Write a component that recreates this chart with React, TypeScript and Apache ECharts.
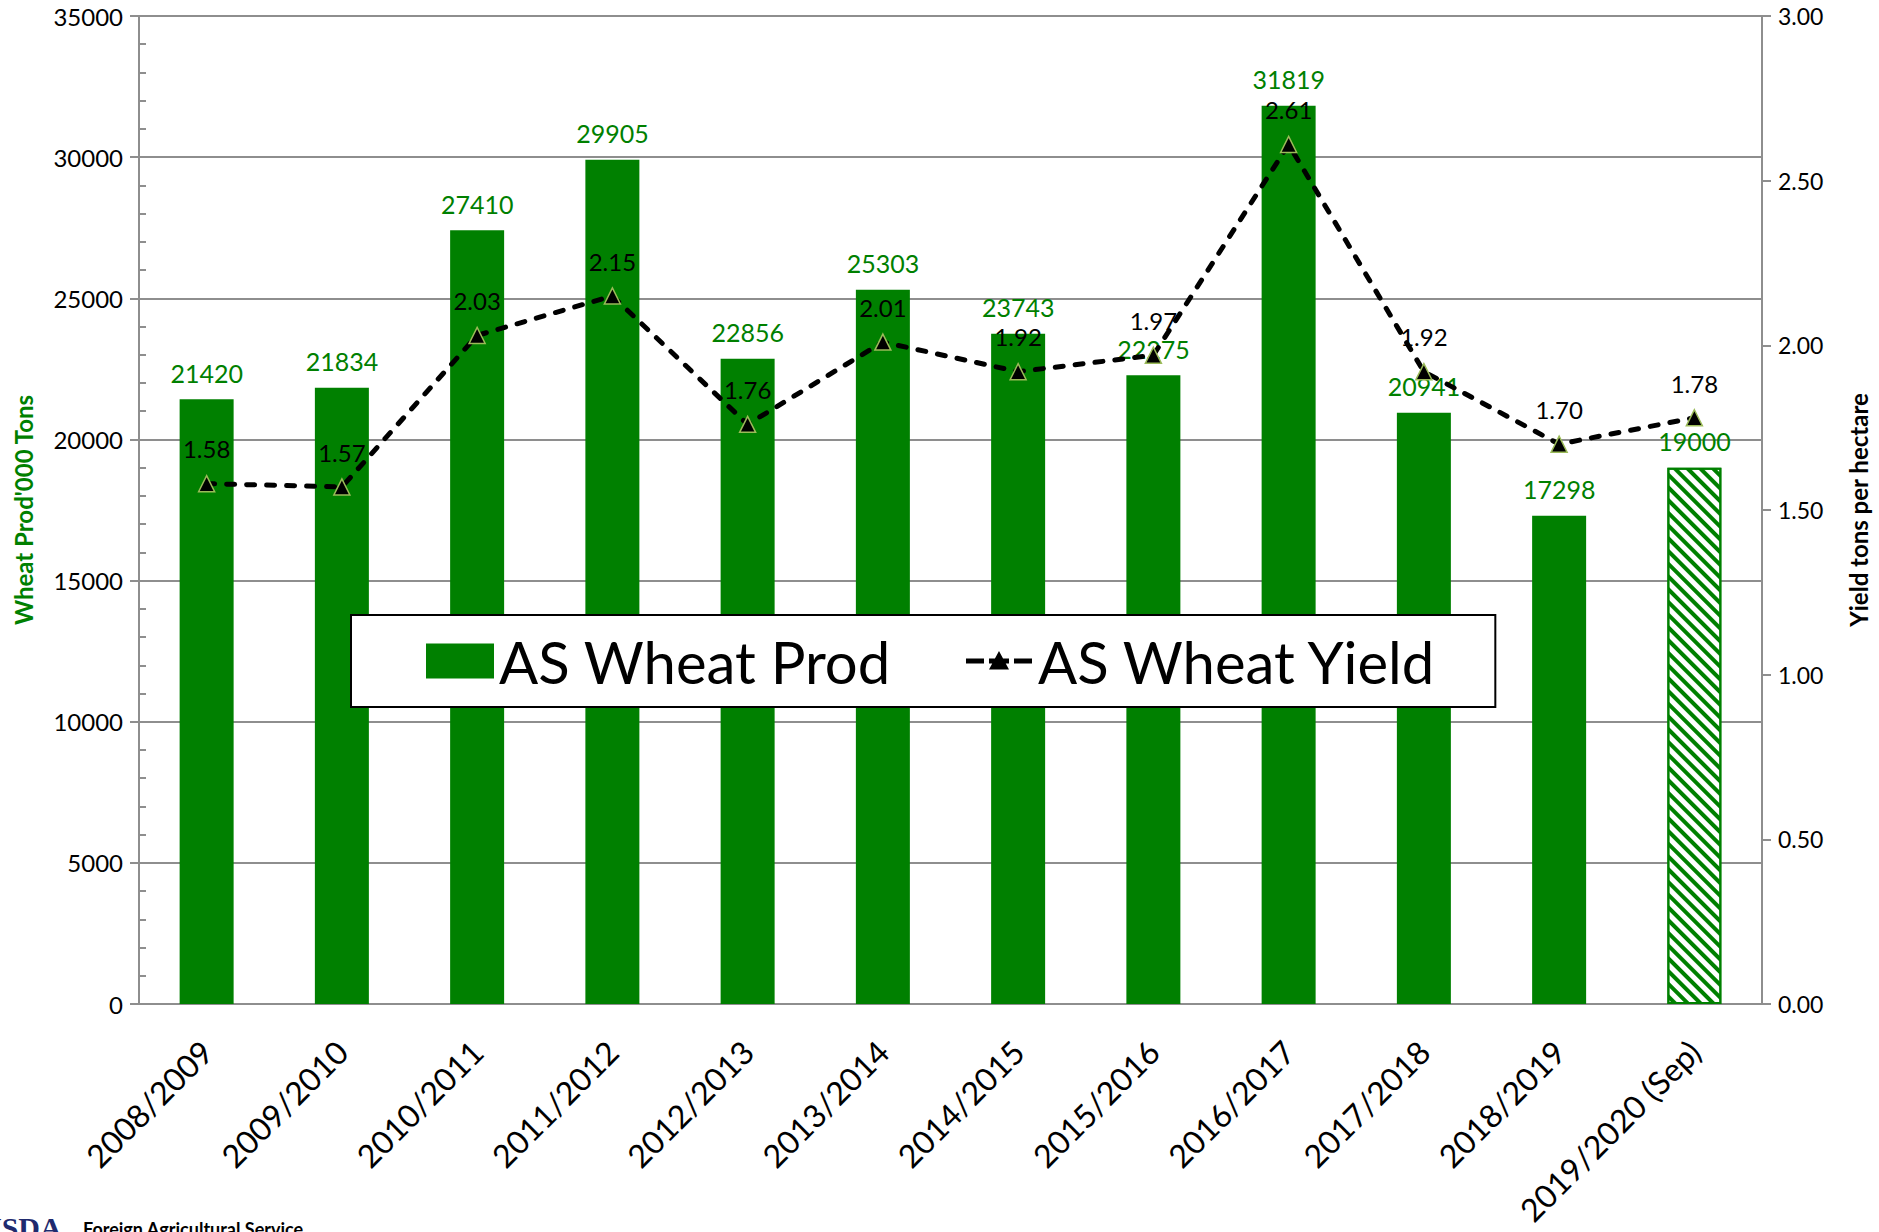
import React, { useEffect, useRef } from "react";
import * as echarts from "echarts";

const categories = [
  "2008/2009", "2009/2010", "2010/2011", "2011/2012", "2012/2013", "2013/2014",
  "2014/2015", "2015/2016", "2016/2017", "2017/2018", "2018/2019", "2019/2020 (Sep)",
];
const prodValues = [21420, 21834, 27410, 29905, 22856, 25303, 23743, 22275, 31819, 20941, 17298, 19000];
const yieldValues = [1.58, 1.57, 2.03, 2.15, 1.76, 2.01, 1.92, 1.97, 2.61, 1.92, 1.70, 1.78];
const leftTicks = { min: 0, max: 35000, interval: 5000, minorInterval: 1000 };
const rightTicks = { min: 0, max: 3, interval: 0.5 };

const GREEN = "#008000";
const GRAY = "#8e8e8e";
const FONT = "Lato";

// legend icon for the yield line: dashes + small triangle, in a 68x35 box
const LINE_ICON =
  "path://M0 0h0.01v0.01h-0.01Z M67.99 34.99h0.01v0.01h-0.01Z " +
  "M1 15h18v5h-18Z M24 15h20v5h-20Z M49 15h18v5h-18Z " +
  "M34 7.5L44 26L24 26Z";

export default function App() {
  const ref = useRef<HTMLDivElement>(null);
  useEffect(() => {
    document.body.style.margin = "0";
    document.body.style.overflow = "hidden";
    const chart = echarts.init(ref.current!, null, { renderer: "svg" });
    const last = prodValues.length - 1;
    chart.setOption({
      animation: false,
      backgroundColor: "#fff",
      textStyle: { fontFamily: FONT },
      grid: { left: 139, right: 117, top: 16, bottom: 228 },
      legend: {
        left: 351,
        top: 615,
        selectedMode: false,
        itemWidth: 68,
        itemHeight: 35,
        itemGap: 74,
        padding: [16, 58, 16, 75],
        backgroundColor: "#fff",
        borderColor: "#000",
        borderWidth: 2,
        textStyle: { fontSize: 58, fontFamily: FONT, color: "#000", lineHeight: 60 },
        data: [
          { name: "AS Wheat Prod", icon: "rect" },
          { name: "AS Wheat Yield", icon: LINE_ICON, itemStyle: { color: "#000", borderWidth: 0 } },
        ],
      },
      xAxis: {
        type: "category",
        data: categories,
        axisLine: { lineStyle: { color: GRAY, width: 2 } },
        axisTick: { length: 12, lineStyle: { color: GRAY, width: 2 } },
        axisLabel: { rotate: 45, fontSize: 32, color: "#000", margin: 42, fontFamily: FONT, interval: 0 },
      },
      yAxis: [
        {
          type: "value",
          position: "left",
          min: leftTicks.min,
          max: leftTicks.max,
          interval: leftTicks.interval,
          name: "Wheat Prod'000 Tons",
          nameLocation: "middle",
          nameGap: 104,
          nameTextStyle: { color: GREEN, fontWeight: "bold", fontSize: 24, fontFamily: FONT },
          axisLine: { show: true, lineStyle: { color: GRAY, width: 2 } },
          axisTick: { show: true, length: 9, lineStyle: { color: GRAY, width: 2 } },
          axisLabel: { fontSize: 24, color: "#000", margin: 16, fontFamily: FONT, formatter: (v: number) => String(v) },
          splitLine: { show: true, lineStyle: { color: GRAY, width: 2 } },
        },
        {
          type: "value",
          position: "right",
          min: rightTicks.min,
          max: rightTicks.max,
          interval: rightTicks.interval,
          name: "Yield tons per hectare",
          nameLocation: "middle",
          nameRotate: 90,
          nameGap: 84,
          nameTextStyle: { color: "#000", fontWeight: "bold", fontSize: 24, fontFamily: FONT },
          axisLine: { show: true, lineStyle: { color: GRAY, width: 2 } },
          axisTick: { show: true, length: 9, lineStyle: { color: GRAY, width: 2 } },
          axisLabel: { fontSize: 23, color: "#000", margin: 16, fontFamily: FONT, formatter: (v: number) => v.toFixed(2) },
          splitLine: { show: false },
        },
        {
          type: "value",
          position: "left",
          min: leftTicks.min,
          max: leftTicks.max,
          interval: leftTicks.minorInterval,
          axisLine: { show: false },
          axisLabel: { show: false },
          splitLine: { show: false },
          axisTick: { show: true, inside: true, length: 7, lineStyle: { color: GRAY, width: 2 } },
        },
      ],
      series: [
        {
          type: "bar",
          name: "AS Wheat Prod",
          yAxisIndex: 0,
          barWidth: 54,
          itemStyle: { color: GREEN },
          label: { show: true, position: "top", distance: 14, color: GREEN, fontSize: 25, fontFamily: FONT },
          data: prodValues.map((v, i) =>
            i === last
              ? {
                  value: v,
                  itemStyle: {
                    color: "#fff",
                    borderColor: GREEN,
                    borderWidth: 2,
                    decal: {
                      symbol: "rect",
                      symbolSize: 1,
                      color: GREEN,
                      dashArrayX: [1, 0],
                      dashArrayY: [3.5, 5],
                      rotation: Math.PI / 4,
                    },
                  },
                }
              : v
          ),
          z: 2,
        },
        {
          type: "line",
          name: "AS Wheat Yield",
          yAxisIndex: 1,
          data: yieldValues,
          symbol: "triangle",
          symbolSize: 16,
          itemStyle: { color: "#000", borderColor: "#9BBB59", borderWidth: 1.5 },
          lineStyle: { color: "#000", width: 5, type: [8, 12], cap: "round" },
          label: {
            show: true,
            position: "top",
            distance: 14,
            color: "#000",
            fontSize: 24,
            fontFamily: FONT,
            formatter: (p: any) => Number(p.value).toFixed(2),
          },
          z: 3,
        },
      ],
      graphic: [
        {
          type: "text",
          left: -20,
          top: 1212,
          style: { text: "USDA", fontSize: 30, fontWeight: "bold", fill: "#1f2a6e", fontFamily: "Liberation Serif" },
        },
        {
          type: "text",
          left: 83,
          top: 1220,
          style: { text: "Foreign Agricultural Service", fontSize: 18, fontWeight: "bold", fill: "#000", fontFamily: FONT },
        },
      ],
    });
    return () => chart.dispose();
  }, []);
  return <div ref={ref} style={{ width: 1879, height: 1232 }} />;
}
